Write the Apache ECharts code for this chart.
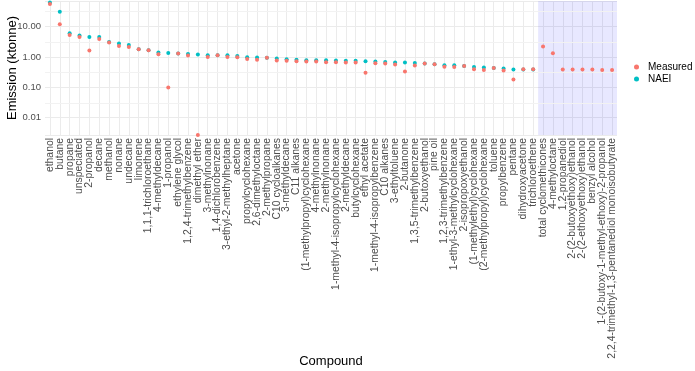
<!DOCTYPE html>
<html lang="en">
<head>
<meta charset="UTF-8">
<title>Emission by compound</title>
<script src="https://cdn.jsdelivr.net/npm/echarts@6/dist/echarts.min.js"></script>
<style>
  html, body { margin: 0; padding: 0; background: #fff; }
  #main { width: 695px; height: 371px; }
</style>
</head>
<body>
<div id="main"></div>
<script>
// compounds, in plot order
var compounds = [
  'ethanol', 'butane', 'propane', 'unspeciated', '2-propanol', 'decane', 'methanol', 'nonane', 'undecane', 'limonene',
  '1,1,1-trichloroethane', '4-methyldecane', '1-propanol', 'ethylene glycol', '1,2,4-trimethylbenzene', 'dimethyl ether',
  '3-methylnonane', '1,4-dichlorobenzene', '3-ethyl-2-methylheptane', 'acetone', 'propylcyclohexane', '2,6-dimethyloctane',
  '2-methylpropane', 'C10 cycloalkanes', '3-methyldecane', 'C11 alkanes', '(1-methylpropyl)cyclohexane', '4-methylnonane',
  '2-methylnonane', '1-methyl-4-isopropylcyclohexane', '2-methyldecane', 'butylcyclohexane', 'ethyl acetate',
  '1-methyl-4-isopropylbenzene', 'C10 alkanes', '3-ethyltoluene', '2-butanone', '1,3,5-trimethylbenzene', '2-butoxyethanol',
  'pine oil', '1,2,3-trimethylbenzene', '1-ethyl-3-methylcyclohexane', '2-isopropoxyethanol', '(1-methylethyl)cyclohexane',
  '(2-methylpropyl)cyclohexane', 'toluene', 'propylbenzene', 'pentane', 'dihydroxyacetone', 'trichloroethene',
  'total cyclomethicones', '4-methyloctane', '1,2-propanediol', '2-(2-butoxyethoxy)ethanol', '2-(2-ethoxyethoxy)ethanol',
  'benzyl alcohol', '1-(2-butoxy-1-methyl-ethoxy)-2-propanol', '2,2,4-trimethyl-1,3-pentanediol monoisobutyrate'
];
// emissions, ktonne
var measured = [
  56, 12.1, 5.35, 4.6, 1.63, 3.95, 3.0, 2.3, 2.15, 1.8,
  1.67, 1.23, 0.098, 1.3, 1.11, 0.0026, 1.0, 1.14, 1.0, 0.98,
  0.86, 0.80, 0.93, 0.76, 0.74, 0.72, 0.70, 0.70, 0.67, 0.67,
  0.65, 0.65, 0.30, 0.62, 0.60, 0.56, 0.33, 0.52, 0.60, 0.57,
  0.47, 0.46, 0.50, 0.39, 0.37, 0.43, 0.355, 0.18, 0.39, 0.39,
  2.2, 1.33, 0.38, 0.38, 0.38, 0.38, 0.37, 0.37
];
var naei = [
  63, 31, 6.1, 5.1, 4.6, 4.6, 3.1, 2.8, 2.5, 1.8,
  1.67, 1.4, 1.36, 1.3, 1.26, 1.2, 1.14, 1.14, 1.14, 1.08,
  0.98, 0.95, 0.93, 0.88, 0.84, 0.80, 0.78, 0.78, 0.78, 0.76,
  0.74, 0.74, 0.72, 0.70, 0.68, 0.65, 0.65, 0.63, 0.60, 0.57,
  0.53, 0.53, 0.50, 0.46, 0.45, 0.43, 0.41, 0.38, 0.38, 0.38,
  null, null, null, null, null, null, null, null
];
var minorBreaks = [0.00316, 0.0316, 0.316, 3.16, 31.6];
var notInNaei = 'total cyclomethicones'; // first compound with no NAEI value

var shadeFrom = compounds.indexOf(notInNaei) + 0.5;
var shadeTo = compounds.length + 0.5;

var myChart = echarts.init(document.getElementById('main'));

var option = {
  animation: false,
  textStyle: { fontFamily: 'Liberation Sans' },
  grid: { left: 45, right: 78, top: 1, bottom: 236, outerBoundsMode: 'none', containLabel: false },
  legend: {
    data: ['Measured', 'NAEI'],
    orient: 'vertical',
    left: 634, top: 62,
    padding: 0,
    itemWidth: 5, itemHeight: 5, itemGap: 2,
    icon: 'circle',
    textStyle: { fontSize: 10, color: '#000', padding: [0, 0, 0, 4] }
  },
  xAxis: [{
    type: 'category',
    data: compounds,
    name: 'Compound',
    nameLocation: 'middle',
    nameGap: 220,
    nameMoveOverlap: false,
    nameTextStyle: { fontSize: 13, color: '#000' },
    axisLine: { show: false },
    axisTick: { show: false },
    axisLabel: { rotate: 90, interval: 0, fontSize: 10.4, color: '#4d4d4d', margin: 3 },
    splitLine: { show: true, interval: 0, alignWithLabel: true, lineStyle: { color: '#ebebeb', width: 1 } }
  }, {
    type: 'value',
    show: false,
    min: 0.5,
    max: compounds.length + 0.5
  }],
  yAxis: {
    type: 'log',
    logBase: 10,
    min: 0.0026,
    max: 71,
    name: 'Emission (ktonne)',
    nameLocation: 'middle',
    nameRotate: 90,
    nameGap: 26,
    nameMoveOverlap: false,
    nameTextStyle: { fontSize: 13, color: '#000' },
    axisLine: { show: false },
    axisTick: { show: false },
    axisLabel: {
      fontSize: 9.5, color: '#4d4d4d', margin: 4,
      formatter: function (v) {
        var l = Math.log10(v);
        return Math.abs(l - Math.round(l)) < 1e-6 ? v.toFixed(2) : '';
      }
    },
    splitLine: { show: true, lineStyle: { color: '#ebebeb', width: 1 } }
  },
  series: [
    {
      name: 'shade',
      type: 'scatter',
      xAxisIndex: 1,
      data: [],
      silent: true,
      z: 1,
      markArea: {
        silent: true,
        z: 1,
        itemStyle: { color: 'rgba(0,0,255,0.09)' },
        data: [[{ xAxis: shadeFrom }, { xAxis: shadeTo }]]
      },
      markLine: {
        silent: true,
        z: 1,
        symbol: 'none',
        label: { show: false },
        lineStyle: { color: '#f2f2f2', width: 1, type: 'solid' },
        data: minorBreaks.map(function (b) { return { yAxis: b }; })
      }
    },
    {
      name: 'NAEI',
      type: 'scatter',
      symbolSize: 4,
      z: 3,
      itemStyle: { color: '#00BFC4', opacity: 1 },
      data: naei
    },
    {
      name: 'Measured',
      type: 'scatter',
      symbolSize: 4,
      z: 4,
      itemStyle: { color: '#F8766D', opacity: 1 },
      data: measured
    }
  ]
};
myChart.setOption(option);
</script>
</body>
</html>
